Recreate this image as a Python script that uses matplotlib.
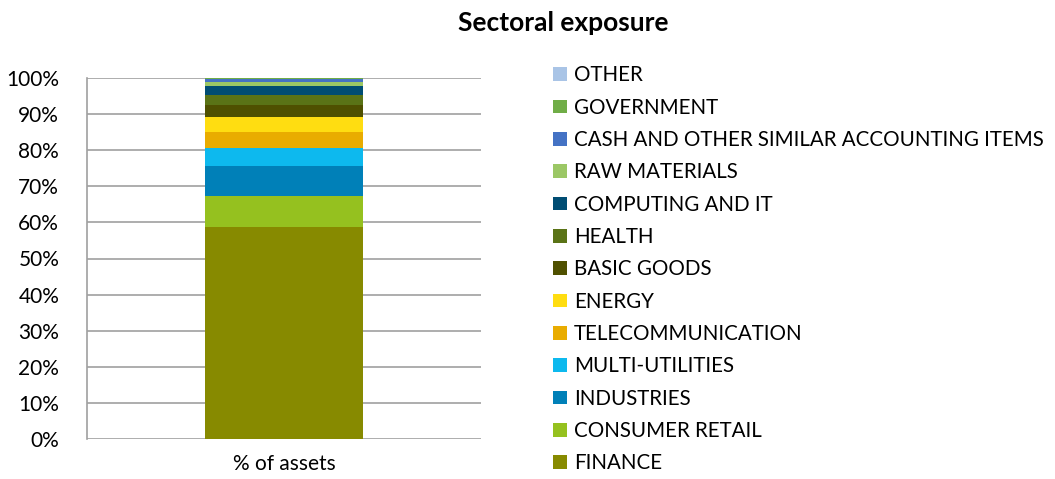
import matplotlib.pyplot as plt
from matplotlib.patches import Patch
from matplotlib.ticker import PercentFormatter

plt.rcParams["font.family"] = ["Lato", "DejaVu Sans"]

# Sector weights, % of assets (bottom to top of the stack)
sectors = [
    "FINANCE", "CONSUMER RETAIL", "INDUSTRIES", "MULTI-UTILITIES",
    "TELECOMMUNICATION", "ENERGY", "BASIC GOODS", "HEALTH",
    "COMPUTING AND IT", "RAW MATERIALS",
    "CASH AND OTHER SIMILAR ACCOUNTING ITEMS", "GOVERNMENT", "OTHER",
]
weights = [58.8, 8.6, 8.3, 5.0, 4.4, 4.2, 3.3, 2.8, 2.5, 1.1, 0.6, 0.3, 0.1]
colors = [
    "#878a00", "#95c11f", "#0080b8", "#0db9ee", "#e9ac00", "#ffdd11",
    "#4f5000", "#5a7316", "#004d73", "#9bc765", "#4472c4", "#70ad47",
    "#a9c4e6",
]
category = "% of assets"

fig = plt.figure(figsize=(10.55, 4.79), dpi=100)
ax = fig.add_axes([87 / 1055, 1 - 439 / 479, 394 / 1055, 361 / 479])

bottom = 0
for name, w, c in zip(sectors, weights, colors):
    ax.bar([category], [w], bottom=bottom, width=0.4, color=c, label=name)
    bottom += w

ax.set_xlim(-0.5, 0.5)
ax.set_ylim(0, 100)
ax.set_yticks(range(0, 101, 10))
ax.yaxis.set_major_formatter(PercentFormatter(decimals=0))
ax.grid(axis="y", color="#a0a0a0", linewidth=1.2)
ax.set_axisbelow(True)
for side in ["top", "right", "bottom"]:
    ax.spines[side].set_visible(False)
ax.spines["left"].set_color("#a0a0a0")
ax.spines["left"].set_linewidth(1.2)
ax.tick_params(axis="y", length=0, labelsize=15, pad=20)
ax.tick_params(axis="x", length=0, labelsize=15, pad=11)

# Legend, top entry = last stacked segment
handles = [Patch(facecolor=c) for c in colors][::-1]
fig.legend(handles, sectors[::-1], loc="upper left",
           bbox_to_anchor=(543 / 1055, 1 - 55 / 479), frameon=False,
           fontsize=14.8, handlelength=0.65, handleheight=0.65,
           handletextpad=0.35, labelspacing=0.60, borderpad=0)

fig.text(563 / 1055, 1 - 23 / 479, "Sectoral exposure", ha="center",
         va="center", fontsize=19, fontweight="bold")

fig.savefig("out.png", dpi=100)
